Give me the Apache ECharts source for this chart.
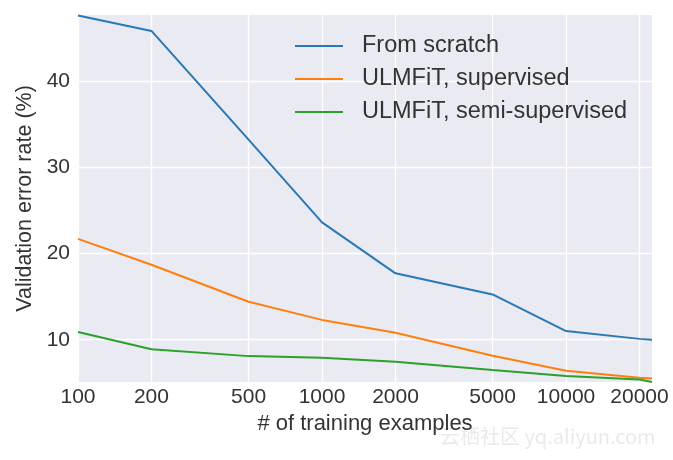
<!DOCTYPE html>
<html>
<head>
<meta charset="utf-8">
<script src="https://cdn.jsdelivr.net/npm/echarts@6/dist/echarts.min.js"></script>
<style>
html,body{margin:0;padding:0;background:#fff;}
#chart{width:673px;height:460px;}
</style>
</head>
<body>
<div id="chart"></div>
<script>
var trainingSizes = [100, 200, 500, 1000, 2000, 5000, 10000, 20000, 22500];
var fromScratch = [47.6, 45.8, 33.2, 23.6, 17.7, 15.25, 11.0, 10.1, 10.0];
var ulmfitSupervised = [21.7, 18.7, 14.4, 12.3, 10.8, 8.15, 6.4, 5.6, 5.5];
var ulmfitSemi = [10.9, 8.9, 8.1, 7.9, 7.45, 6.5, 5.8, 5.4, 5.1];
var xTicks = [100, 200, 500, 1000, 2000, 5000, 10000, 20000];
var yTicks = [10, 20, 30, 40];
var seriesNames = ['From scratch', 'ULMFiT, supervised', 'ULMFiT, semi-supervised'];

function pairs(ys) { return trainingSizes.map(function (x, i) { return [x, ys[i]]; }); }

var FONT = '"Liberation Sans", Arial, sans-serif';
var TXT = '#333333';
var chart = echarts.init(document.getElementById('chart'));
var colors = ['#2a78b5', '#ff7f0e', '#2ca02c'];
var dataSets = [fromScratch, ulmfitSupervised, ulmfitSemi];

chart.setOption({
  animation: false,
  backgroundColor: '#ffffff',
  color: colors,
  grid: { left: 78, right: 21, top: 15, bottom: 78, show: true, backgroundColor: '#EAEAF2', borderWidth: 0 },
  legend: {
    orient: 'vertical', left: 295, top: 34, padding: 0,
    itemWidth: 48, itemHeight: 2, itemGap: 9, icon: 'rect',
    textStyle: { fontFamily: FONT, fontSize: 23.5, color: TXT, padding: [0, 0, 0, 14] },
    data: seriesNames
  },
  xAxis: {
    type: 'log', logBase: 10, min: 100, max: 22500,
    name: '# of training examples', nameLocation: 'middle', nameGap: 26,
    nameTextStyle: { fontFamily: FONT, fontSize: 22, color: TXT },
    axisLine: { show: false },
    axisTick: { show: false, customValues: xTicks },
    axisLabel: { customValues: xTicks, fontFamily: FONT, fontSize: 21, color: TXT, margin: 5,
      formatter: function (v) { return String(Math.round(v)); } },
    splitLine: { show: true, lineStyle: { color: '#ffffff', width: 1.3 } }
  },
  yAxis: {
    type: 'value', min: 5.1, max: 47.65,
    name: 'Validation error rate (%)', nameLocation: 'middle', nameGap: 40,
    nameTextStyle: { fontFamily: FONT, fontSize: 21.5, color: TXT },
    axisLine: { show: false },
    axisTick: { show: false, customValues: yTicks },
    axisLabel: { customValues: yTicks, fontFamily: FONT, fontSize: 21, color: TXT, margin: 8 },
    splitLine: { show: true, lineStyle: { color: '#ffffff', width: 1.3 } }
  },
  graphic: [{
    type: 'text', left: 440, top: 426, silent: true,
    style: { text: '云栖社区 yq.aliyun.com', fontFamily: '"Noto Sans CJK SC", sans-serif', fontSize: 20, fill: 'rgba(225,225,225,0.7)' }
  }],
  series: dataSets.map(function (ys, i) {
    return {
      name: seriesNames[i], type: 'line', data: pairs(ys),
      showSymbol: false, symbol: 'none', clip: true,
      lineStyle: { width: 2, color: colors[i] }
    };
  })
});
</script>
</body>
</html>
